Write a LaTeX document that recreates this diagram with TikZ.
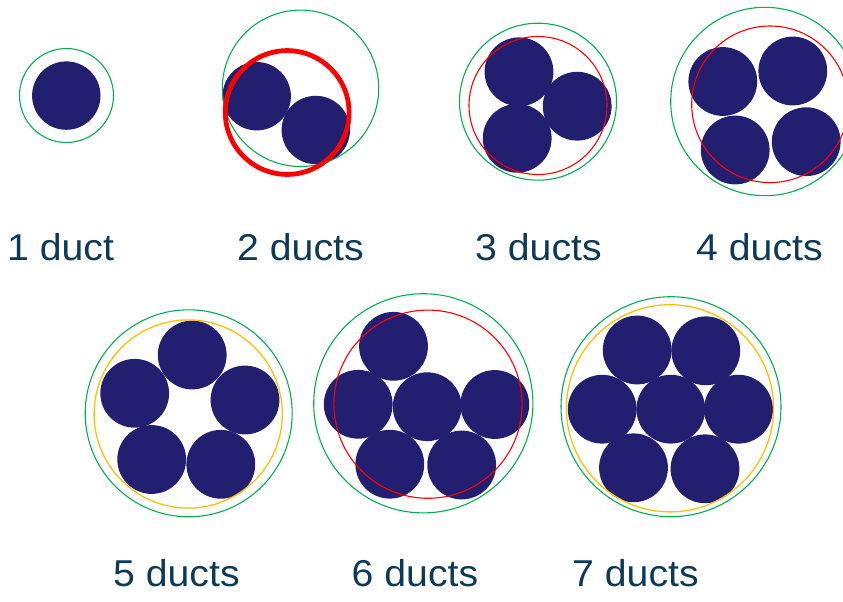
\documentclass[tikz,border=0pt]{standalone}
\usepackage{fontspec}
\setmainfont{Liberation Sans}
\definecolor{ductblue}{RGB}{35,31,112}
\definecolor{ringgreen}{RGB}{0,176,80}
\definecolor{ringorange}{RGB}{255,192,0}
\definecolor{labelcol}{RGB}{12,58,88}
\newcommand{\widelbl}[1]{\scalebox{1.05}[1]{#1}}
\tikzset{
  disc/.style={fill=ductblue},
  greenring/.style={draw=ringgreen, line width=1.1bp},
  redring/.style={draw=red, line width=1.1bp},
  thickred/.style={draw=red, line width=4.8bp},
  orangering/.style={draw=ringorange, line width=1.3bp},
  lbl/.style={anchor=base west, inner sep=0pt, text=labelcol, font=\fontsize{37.5}{40}\selectfont}
}
\begin{document}
\begin{tikzpicture}[x=1bp,y=-1bp]
\useasboundingbox (0,0) rectangle (843,602);
% 1 duct
\fill[disc] (66.3,95.6) circle (34.2);
\draw[greenring] (66.5,95.5) circle (47);
% 2 ducts
\fill[disc] (256.7,96.2) circle (34.2);
\fill[disc] (315.8,130) circle (34.2);
\draw[greenring] (300.5,88.3) circle (78.2);
\draw[thickred] (287.2,112.5) circle (61.9);
% 3 ducts
\fill[disc] (519,71.8) circle (34.4);
\fill[disc] (577.2,106.2) circle (34.4);
\fill[disc] (517.2,138.3) circle (34.4);
\draw[greenring] (538,101.7) circle (78.5);
\draw[redring] (538,105.5) circle (69);
% 4 ducts
\fill[disc] (722.8,81.5) circle (34.4);
\fill[disc] (792.8,71) circle (34.4);
\fill[disc] (735.2,150) circle (34.4);
\fill[disc] (806.2,141.7) circle (34.4);
\draw[greenring] (764.9,101.5) circle (94.2);
\draw[redring] (770,104.3) circle (78.3);
% 5 ducts
\fill[disc] (192.2,355) circle (34.4);
\fill[disc] (134.7,393.3) circle (34.4);
\fill[disc] (245,400) circle (34.4);
\fill[disc] (151.7,459.5) circle (34.4);
\fill[disc] (220.8,464.3) circle (34.4);
\draw[greenring] (188.7,413.3) circle (103.5);
\draw[orangering] (188.2,414) circle (94.1);
% 6 ducts
\fill[disc] (393.5,346.3) circle (34.4);
\fill[disc] (358.2,404.3) circle (34.4);
\fill[disc] (427.2,406.7) circle (34.4);
\fill[disc] (494.8,404.5) circle (34.4);
\fill[disc] (389.8,464.2) circle (34.4);
\fill[disc] (461.7,465) circle (34.4);
\draw[greenring] (423.3,403.3) circle (109.6);
\draw[redring] (428,404.2) circle (94.1);
% 7 ducts
\fill[disc] (637.2,350) circle (34.4);
\fill[disc] (705.8,350.8) circle (34.4);
\fill[disc] (602.2,409.2) circle (34.4);
\fill[disc] (670.8,409.2) circle (34.4);
\fill[disc] (738.5,409.2) circle (34.4);
\fill[disc] (633.5,467.8) circle (34.4);
\fill[disc] (705,468.8) circle (34.4);
\draw[greenring] (671,406.7) circle (110);
\draw[orangering] (670,408.3) circle (103.6);
% labels
\node[lbl] (l1) at (7,260) {\widelbl{1 duct}};
\node[lbl] (l2) at (237,260) {\widelbl{2 ducts}};
\node[lbl] (l3) at (475,260) {\widelbl{3 ducts}};
\node[lbl] (l4) at (696,260) {\widelbl{4 ducts}};
\node[lbl] (l5) at (113,586.5) {\widelbl{5 ducts}};
\node[lbl] (l6) at (351.5,586.5) {\widelbl{6 ducts}};
\node[lbl] (l7) at (572,586.5) {\widelbl{7 ducts}};
\end{tikzpicture}
\end{document}
